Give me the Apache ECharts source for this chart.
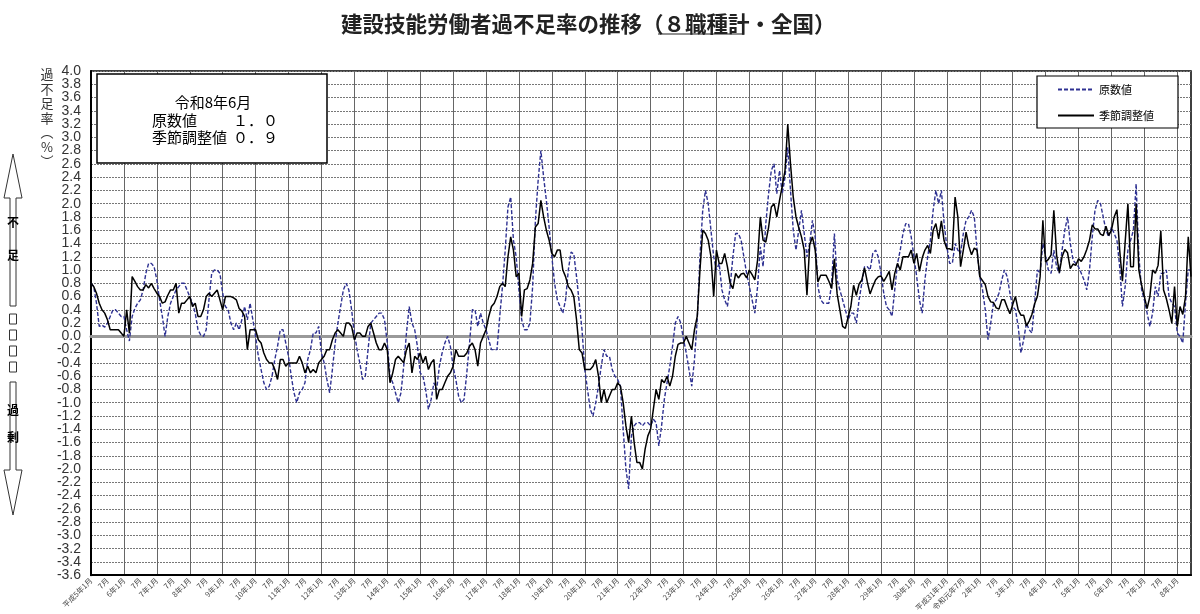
<!DOCTYPE html>
<html>
<head>
<meta charset="utf-8">
<title>建設技能労働者過不足率の推移</title>
<script src="https://cdn.jsdelivr.net/npm/echarts@6/dist/echarts.min.js"></script>
<style>
  html, body { margin: 0; padding: 0; background: #fff; }
  #main { width: 1200px; height: 614px; }
</style>
</head>
<body>
<div id="main"></div>
<script>
// 原数値（月次、平成5年1月～令和8年6月）
var rawValues = [
  0.8, 0.75, 0.5, 0.15, 0.17, 0.14, 0.2, 0.3, 0.4, 0.4, 0.35, 0.3,
  0.3, 0.1, -0.07, 0.3, 0.42, 0.5, 0.55, 0.7, 0.95, 1.1, 1.1, 1.05,
  0.85, 0.55, 0.3, 0.0, 0.3, 0.5, 0.6, 0.7, 0.75, 0.8, 0.8, 0.7,
  0.6, 0.5, 0.35, 0.1, 0.02, 0.0, 0.1, 0.55, 0.95, 1.0, 1.0, 0.95,
  0.65, 0.45, 0.4, 0.2, 0.1, 0.2, 0.1, 0.25, 0.45, 0.25, 0.5, 0.25,
  0.0, -0.3, -0.5, -0.7, -0.8, -0.75, -0.6, -0.35, -0.15, 0.1, 0.1, -0.1,
  -0.3, -0.6, -0.85, -1.0, -0.85, -0.8, -0.7, -0.35, -0.2, 0.05, 0.05, 0.15,
  -0.25, -0.4, -0.65, -0.85, -0.5, -0.1, 0.2, 0.45, 0.7, 0.8, 0.7, 0.4,
  0.05, -0.2, -0.4, -0.65, -0.6, -0.2, 0.2, 0.25, 0.3, 0.35, 0.35, 0.25,
  -0.1, -0.6, -0.7, -0.85, -1.0, -0.85, -0.45, 0.05, 0.45, 0.2, 0.1, -0.15,
  -0.55, -0.6, -0.8, -1.1, -0.95, -0.7, -0.8, -0.45, -0.25, -0.1, 0.0, -0.15,
  -0.45, -0.65, -0.9, -1.0, -0.95, -0.55, -0.1, 0.4, 0.4, 0.15, 0.35, 0.2,
  0.1, -0.05, -0.2, -0.2, -0.2, 0.3, 0.75, 1.3, 1.95, 2.1, 1.45, 1.2,
  0.7, 0.25, 0.1, 0.1, 0.2, 0.75, 1.75, 2.35, 2.8, 2.4, 2.05, 1.65,
  1.2, 0.8, 0.55, 0.45, 0.35, 0.55, 1.0, 1.27, 1.24, 0.9, 0.5, 0.1,
  -0.5, -0.8, -1.1, -1.2, -1.0, -0.75, -0.45, -0.2, -0.3, -0.3, -0.5, -0.6,
  -0.65, -0.75, -1.4, -2.0, -2.3, -1.5, -1.35, -1.3, -1.3, -1.35, -1.3, -1.3,
  -1.35, -1.25, -1.3, -1.65, -1.35, -0.95, -0.7, -0.45, -0.15, 0.2, 0.3, 0.2,
  -0.05, -0.25, -0.5, -0.75, -0.35, 0.25, 1.2, 1.9, 2.2, 2.0, 1.6, 1.2,
  1.0, 1.1, 0.7, 0.55, 0.45, 0.75, 1.2, 1.55, 1.55, 1.45, 1.2, 0.95,
  0.75, 0.55, 0.35, 0.75, 1.35, 1.05, 1.7, 2.15, 2.5, 2.6, 2.15, 2.5,
  2.15, 2.4, 2.85, 2.2, 1.6, 1.3, 1.6, 1.9, 1.55, 1.2, 1.4, 1.75,
  1.5, 0.75, 0.55, 0.5, 0.5, 0.5, 0.8, 1.55, 0.85, 0.7, 0.55, 0.4,
  0.25, 0.35, 0.35, 0.2, 0.55, 0.8, 1.05, 1.05, 1.0, 1.25, 1.3, 1.2,
  0.95, 0.65, 0.45, 0.4, 0.3, 0.7, 1.1, 1.3, 1.55, 1.7, 1.7, 1.5,
  1.2, 0.9, 0.55, 0.35, 0.85, 1.2, 1.45, 1.9, 2.2, 2.0, 2.2, 1.7,
  1.35, 1.1, 1.1, 1.4, 1.3, 1.25, 1.55, 1.75, 1.8, 1.9, 1.8, 1.3,
  0.9, 0.7, 0.4, -0.05, 0.2, 0.5, 0.55, 0.65, 0.85, 1.0, 0.9, 0.65,
  0.45, 0.4, 0.15, -0.25, -0.05, 0.2, 0.1, 0.05, 0.5, 1.0, 0.95, 1.4,
  1.2, 1.0, 0.95, 1.3, 1.05, 0.95, 1.3, 1.6, 1.8, 1.4, 1.15, 1.1,
  1.05, 0.95, 0.85, 0.7, 1.0, 1.5, 1.9, 2.05, 2.0, 1.8, 1.6, 1.5,
  1.65, 1.55, 1.45, 1.05, 0.45, 0.75, 1.3, 1.45, 1.6, 2.3, 1.2, 0.7,
  0.55, 0.35, 0.15, 0.35, 0.75, 0.6, 0.95, 0.95, 1.0, 0.6, 0.5, 0.45,
  0.05, 0.0, -0.1, 0.5, 1.0, 1.0
];

// 季節調整値
var saValues = [
  0.8, 0.75, 0.65, 0.5, 0.4, 0.35, 0.25, 0.1, 0.1, 0.1, 0.1, 0.05,
  0.0, 0.4, 0.05, 0.9, 0.83, 0.75, 0.7, 0.7, 0.78, 0.73, 0.8, 0.72,
  0.65, 0.6, 0.5, 0.52, 0.62, 0.7, 0.7, 0.8, 0.35, 0.5, 0.5, 0.55,
  0.6, 0.45, 0.5, 0.3, 0.3, 0.4, 0.6, 0.65, 0.6, 0.65, 0.7, 0.55,
  0.4, 0.6, 0.6, 0.6, 0.58, 0.55, 0.42, 0.38, 0.3, -0.2, 0.1, 0.1,
  0.1, -0.05, -0.1, -0.25, -0.35, -0.4, -0.4, -0.5, -0.65, -0.35, -0.35, -0.45,
  -0.4, -0.4, -0.4, -0.4, -0.3, -0.4, -0.55, -0.45, -0.55, -0.5, -0.55, -0.4,
  -0.35, -0.3, -0.2, -0.2, -0.05, 0.05, 0.1, 0.05, 0.0, 0.2, 0.2, 0.15,
  -0.05, 0.05, 0.05, 0.0, 0.0, 0.15, 0.2, 0.05, -0.1, -0.2, -0.2, -0.1,
  -0.2, -0.7, -0.55, -0.35, -0.3, -0.35, -0.4, -0.2, -0.1, -0.55, -0.3, -0.35,
  -0.25, -0.4, -0.3, -0.5, -0.4, -0.35, -0.95, -0.8, -0.8, -0.7, -0.6, -0.55,
  -0.45, -0.2, -0.3, -0.3, -0.3, -0.25, -0.15, -0.1, -0.2, -0.45, -0.1, 0.0,
  0.1, 0.3, 0.45, 0.5, 0.6, 0.75, 0.8, 0.75, 1.2, 1.5, 1.3, 0.9,
  0.95, 0.3, 0.7, 0.72, 0.85, 1.1, 1.65, 1.7, 2.05, 1.8, 1.6, 1.45,
  1.25, 1.2, 1.3, 1.3, 1.0, 0.9, 0.75, 0.7, 0.6, 0.25, -0.2, -0.25,
  -0.5, -0.5, -0.5, -0.45, -0.35, -0.6, -1.0, -0.8, -1.0, -0.9, -0.8, -0.8,
  -0.7, -0.75, -1.0, -1.35, -1.6, -1.2, -1.6, -1.9, -1.9, -2.0, -1.7, -1.5,
  -1.4, -1.1, -0.8, -0.95, -0.65, -0.7, -0.6, -0.75, -0.6, -0.3, -0.12, -0.1,
  -0.1, 0.0, -0.1, -0.2, 0.1, 0.3, 1.0, 1.6, 1.55, 1.45, 1.2, 0.6,
  1.3, 1.1, 1.1, 1.25, 1.05, 0.8, 0.72, 0.95, 0.88, 0.94, 0.95, 0.88,
  1.0, 0.93, 0.85, 1.15, 1.8, 1.45, 1.42, 1.64, 1.95, 2.0, 1.8, 2.05,
  2.27, 2.5, 3.2, 2.6, 2.1, 1.8, 1.64, 1.5, 1.3, 0.62, 1.38, 1.5,
  1.3, 0.82, 0.92, 0.92, 0.92, 0.83, 0.72, 1.17, 0.64, 0.4, 0.15, 0.12,
  0.29, 0.45, 0.77, 0.62, 0.79, 0.85, 1.03, 0.82, 0.64, 0.75, 0.85, 0.9,
  0.91, 0.83, 0.9, 0.98, 0.7, 0.95, 1.1, 1.0, 1.2, 1.2, 1.2, 1.3,
  1.1, 1.25, 0.98, 1.18, 1.3, 1.37, 1.25, 1.6, 1.7, 1.47, 1.74, 1.44,
  1.32, 1.32, 1.3, 2.1, 1.8, 1.05, 1.3, 1.57, 1.36, 1.23, 1.33, 1.3,
  0.9, 0.84, 0.78, 0.6, 0.52, 0.51, 0.43, 0.41, 0.55, 0.55, 0.44, 0.34,
  0.48, 0.6, 0.4, 0.32, 0.32, 0.16, 0.23, 0.33, 0.49, 0.6, 0.9, 1.75,
  1.12, 1.16, 1.23, 1.9, 1.23, 0.96, 1.2, 1.31, 1.26, 1.02, 1.09, 1.07,
  1.17, 1.13, 1.2, 1.31, 1.45, 1.68, 1.62, 1.62, 1.54, 1.52, 1.66, 1.52,
  1.6, 1.8, 1.91, 1.3, 0.83, 1.42, 2.0, 1.05, 1.05, 2.0, 1.0, 0.77,
  0.6, 0.42, 0.6, 1.0, 0.95, 1.07, 1.59, 0.7, 0.57, 0.4, 0.2, 0.75,
  0.15, 0.45, 0.33, 0.6, 1.5, 0.9
];

// 横軸の目盛ラベル（6か月ごと）
var tickLabels = [
  '平成5年1月', '7月', '6年1月', '7月', '7年1月', '7月', '8年1月', '7月',
  '9年1月', '7月', '10年1月', '7月', '11年1月', '7月', '12年1月', '7月',
  '13年1月', '7月', '14年1月', '7月', '15年1月', '7月', '16年1月', '7月',
  '17年1月', '7月', '18年1月', '7月', '19年1月', '7月', '20年1月', '7月',
  '21年1月', '7月', '22年1月', '7月', '23年1月', '7月', '24年1月', '7月',
  '25年1月', '7月', '26年1月', '7月', '27年1月', '7月', '28年1月', '7月',
  '29年1月', '7月', '30年1月', '7月', '平成31年1月', '令和元年7月',
  '2年1月', '7月', '3年1月', '7月', '4年1月', '7月', '5年1月', '7月',
  '6年1月', '7月', '7年1月', '7月', '8年1月'
];

// 縦軸の範囲
var yMin = -3.6, yMax = 4.0, yStep = 0.2;

var seriesNames = ['原数値', '季節調整値'];
var latestLabel = '令和8年6月';
var latestRaw = '１．０';
var latestSa = '０．９';

var JP = '"Noto Sans CJK JP", "Noto Sans CJK SC", sans-serif';
var months = rawValues.map(function (v, i) { return String(i); });

function fmtY(v) {
  return Math.abs(v) < 1e-9 ? '0.0' : v.toFixed(1);
}
var yLabelStyle = {
  margin: 10,
  fontSize: 14,
  color: '#333',
  fontFamily: '"Liberation Sans", Arial, sans-serif'
};

var chart = echarts.init(document.getElementById('main'));

var option = {
  animation: false,
  backgroundColor: '#fff',
  title: {
    text: '建設技能労働者過不足率の推移（８職種計・全国）',
    left: 336,
    top: 8,
    textStyle: { fontFamily: JP, fontSize: 21.5, fontWeight: 'bold', color: '#222' }
  },
  legend: {
    orient: 'vertical',
    left: 1037,
    top: 76,
    itemWidth: 36,
    itemHeight: 12,
    itemGap: 15,
    padding: [8, 24, 7, 20],
    backgroundColor: '#fff',
    borderColor: '#000',
    borderWidth: 1.2,
    itemStyle: { opacity: 0 },
    textStyle: { fontFamily: JP, fontSize: 11, color: '#000' },
    data: seriesNames
  },
  grid: {
    left: 91, right: 9, top: 71, bottom: 36,
    show: true, borderColor: '#000', borderWidth: 1.5
  },
  xAxis: [{
    type: 'category',
    data: months,
    boundaryGap: false,
    axisLine: { show: true, onZero: false, lineStyle: { color: '#000', width: 2 } },
    axisTick: { show: false },
    axisLabel: {
      interval: function (i) { return i % 6 === 0; },
      formatter: function (v, i) { return tickLabels[i / 6] || ''; },
      rotate: 45,
      margin: 4,
      fontSize: 7.5,
      color: '#444',
      fontFamily: JP
    },
    splitLine: {
      show: true,
      interval: function (i) { return i % 12 === 0; },
      lineStyle: { color: '#666', width: 1 }
    }
  }, {
    // 0% の基準線
    type: 'category',
    data: months,
    boundaryGap: false,
    position: 'bottom',
    axisLine: { show: true, onZero: true, onZeroAxisIndex: 0, lineStyle: { color: '#999', width: 3 } },
    axisTick: { show: false },
    axisLabel: { show: false },
    splitLine: { show: false }
  }],
  yAxis: [{
    type: 'value',
    min: yMin,
    max: yMax,
    interval: yStep,
    axisLine: { show: true, lineStyle: { color: '#000', width: 2 } },
    axisTick: { show: false },
    axisLabel: Object.assign({ showMinLabel: true, showMaxLabel: true, formatter: fmtY }, yLabelStyle),
    splitLine: { show: true, lineStyle: { color: '#777', width: 1, type: [2, 1] } }
  }, {
    // 端の隣の目盛ラベル（3.8 と -3.4）を補う
    type: 'value',
    position: 'left',
    min: yMin,
    max: yMax,
    interval: yStep,
    axisLine: { show: false },
    axisTick: { show: false },
    splitLine: { show: false },
    axisLabel: Object.assign({
      showMinLabel: false,
      showMaxLabel: false,
      formatter: function (v) {
        var nearEnd = Math.abs(v - (yMax - yStep)) < 1e-6 || Math.abs(v - (yMin + yStep)) < 1e-6;
        return nearEnd ? fmtY(v) : '';
      }
    }, yLabelStyle)
  }],
  series: [{
    name: seriesNames[0],
    type: 'line',
    data: rawValues,
    symbol: 'none',
    lineStyle: { color: '#2e3192', width: 1.4, type: [4, 2] },
    itemStyle: { color: '#2e3192' },
    z: 3
  }, {
    name: seriesNames[1],
    type: 'line',
    data: saValues,
    symbol: 'none',
    lineStyle: { color: '#000', width: 1.5 },
    itemStyle: { color: '#000' },
    z: 4
  }],
  graphic: [
    // 最新値の枠
    { type: 'rect', z: 10, shape: { x: 97, y: 74, width: 230, height: 89 },
      style: { fill: '#fff', stroke: '#000', lineWidth: 1.5 } },
    { type: 'text', z: 11, x: 213, y: 102,
      style: { text: latestLabel, fontFamily: JP, fontSize: 15, fill: '#000', align: 'center', verticalAlign: 'middle' } },
    { type: 'text', z: 11, x: 152, y: 120,
      style: { text: '原数値', fontFamily: JP, fontSize: 15, fill: '#000', verticalAlign: 'middle' } },
    { type: 'text', z: 11, x: 233, y: 120,
      style: { text: latestRaw, fontFamily: JP, fontSize: 15, fill: '#000', verticalAlign: 'middle' } },
    { type: 'text', z: 11, x: 152, y: 137,
      style: { text: '季節調整値', fontFamily: JP, fontSize: 15, fill: '#000', verticalAlign: 'middle' } },
    { type: 'text', z: 11, x: 233, y: 137,
      style: { text: latestSa, fontFamily: JP, fontSize: 15, fill: '#000', verticalAlign: 'middle' } },
    // 縦軸の名前
    { type: 'text', x: 47, y: 67,
      style: { text: '過\n不\n足\n率\n︵\n%\n︶', fontFamily: JP, fontSize: 13, lineHeight: 14.5, fill: '#333', align: 'center' } },
    // 題名の下線
    { type: 'line', shape: { x1: 658, y1: 34, x2: 744, y2: 34 }, style: { stroke: '#222', lineWidth: 1.2 } },
    // 左の矢印
    { type: 'polygon', shape: { points: [[13, 154], [22, 198], [16, 198], [16, 306], [10, 306], [10, 198], [4, 198]] },
      style: { fill: '#fff', stroke: '#333', lineWidth: 1 } },
    { type: 'polygon', shape: { points: [[10, 382], [16, 382], [16, 470], [22, 470], [13, 515], [4, 470], [10, 470]] },
      style: { fill: '#fff', stroke: '#333', lineWidth: 1 } },
    { type: 'rect', shape: { x: 9.5, y: 314, width: 7, height: 10 }, style: { fill: '#fff', stroke: '#333', lineWidth: 1 } },
    { type: 'rect', shape: { x: 9.5, y: 330, width: 7, height: 10 }, style: { fill: '#fff', stroke: '#333', lineWidth: 1 } },
    { type: 'rect', shape: { x: 9.5, y: 346, width: 7, height: 10 }, style: { fill: '#fff', stroke: '#333', lineWidth: 1 } },
    { type: 'rect', shape: { x: 9.5, y: 362, width: 7, height: 10 }, style: { fill: '#fff', stroke: '#333', lineWidth: 1 } },
    { type: 'text', x: 13, y: 222, style: { text: '不', fontFamily: JP, fontSize: 12, fontWeight: 'bold', fill: '#000', align: 'center', verticalAlign: 'middle' } },
    { type: 'text', x: 13, y: 255, style: { text: '足', fontFamily: JP, fontSize: 12, fontWeight: 'bold', fill: '#000', align: 'center', verticalAlign: 'middle' } },
    { type: 'text', x: 13, y: 410, style: { text: '過', fontFamily: JP, fontSize: 12, fontWeight: 'bold', fill: '#000', align: 'center', verticalAlign: 'middle' } },
    { type: 'text', x: 13, y: 437, style: { text: '剰', fontFamily: JP, fontSize: 12, fontWeight: 'bold', fill: '#000', align: 'center', verticalAlign: 'middle' } }
  ]
};

chart.setOption(option);
</script>
</body>
</html>
